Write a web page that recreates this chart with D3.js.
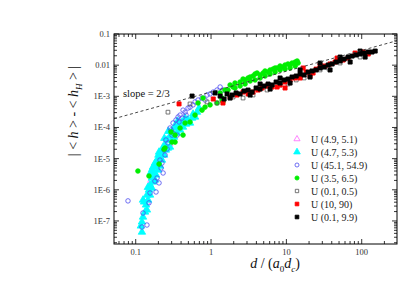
<!DOCTYPE html>
<html>
<head>
<meta charset="utf-8">
<script src="https://cdn.jsdelivr.net/npm/d3@7/dist/d3.min.js"></script>
<style>
  html, body { margin: 0; padding: 0; background: #fff; }
  svg { display: block; }
  text { font-family: "Liberation Serif", "Times New Roman", serif; }
</style>
</head>
<body>
<div id="chart"></div>
<script>
// 数据: [d/(a0 dc), |<h> - <hH>|]
const u49_51 = [[0.14, 4e-7], [0.16, 2e-6], [0.2, 8e-6], [0.28, 3e-5], [0.4, 1.2e-4]];

const u47_53 = [
  [0.121, 4.4e-8], [0.117, 6.9e-8], [0.121, 9.3e-8], [0.125, 1.34e-7], [0.133, 1.94e-7],
  [0.141, 2.25e-7], [0.137, 3.26e-7], [0.129, 4.07e-7], [0.125, 4.7e-7], [0.146, 4.7e-7],
  [0.141, 6.8e-7], [0.155, 6.8e-7], [0.150, 9.9e-7], [0.164, 1.14e-6], [0.155, 1.43e-6],
  [0.145, 1.2e-6], [0.165, 4.5e-6], [0.2, 1.3e-5], [0.24, 4.5e-5], [0.27, 7.5e-5],
  [0.33, 1.1e-4], [0.36, 1.6e-4],
  [0.170, 1.78e-6], [0.180, 2.06e-6], [0.164, 2.39e-6], [0.186, 2.99e-6], [0.175, 3.72e-6],
  [0.160, 3.72e-6], [0.198, 4.32e-6], [0.186, 5.4e-6], [0.170, 5.4e-6], [0.210, 5.8e-6],
  [0.180, 7.2e-6], [0.198, 7.8e-6], [0.192, 9.0e-6], [0.223, 9.0e-6], [0.210, 1.13e-5],
  [0.238, 1.31e-5], [0.223, 1.63e-5], [0.204, 1.63e-5], [0.252, 1.89e-5], [0.268, 2.19e-5],
  [0.231, 2.36e-5], [0.245, 2.74e-5], [0.285, 2.36e-5], [0.261, 3.96e-5], [0.303, 3.96e-5],
  [0.285, 5.3e-5], [0.323, 4.9e-5], [0.303, 7.2e-5], [0.354, 6.6e-5], [0.343, 9.6e-5],
  [0.388, 8.3e-5], [0.376, 1.2e-4], [0.425, 1.03e-4], [0.412, 1.5e-4], [0.466, 1.29e-4],
  [0.495, 1.74e-4], [0.526, 1.39e-4], [0.452, 2.0e-4], [0.560, 2.0e-4], [0.613, 2.17e-4],
  [0.577, 2.7e-4], [0.652, 3.1e-4], [0.693, 4.2e-4]
];

const u451_549 = [
  [0.079, 4.4e-7], [0.121, 6.4e-8], [0.141, 7.4e-8], [0.125, 1.8e-7], [0.150, 3.8e-7],
  [0.155, 7.9e-7], [0.186, 8.5e-7], [0.180, 1.9e-6], [0.204, 1.66e-6], [0.192, 2.39e-6],
  [0.231, 3.46e-6], [0.217, 5.0e-6], [0.223, 7.2e-6], [0.210, 9.0e-6], [0.245, 1.31e-5],
  [0.238, 1.89e-5], [0.261, 2.04e-5], [0.268, 3.18e-5], [0.252, 3.96e-5], [0.313, 6.6e-5],
  [0.354, 5.7e-5], [0.294, 8.3e-5], [0.303, 5.7e-5], [0.285, 9.6e-5], [0.313, 1.39e-4],
  [0.376, 1.5e-4], [0.343, 1.74e-4], [0.365, 2.17e-4], [0.412, 2.0e-4], [0.388, 2.5e-4],
  [0.466, 2.5e-4], [0.452, 3.1e-4], [0.425, 3.6e-4], [0.495, 4.2e-4], [0.526, 4.5e-4],
  [0.577, 5.3e-4], [0.613, 6.6e-4], [0.672, 7.6e-4], [0.832, 7.6e-4], [0.759, 8.8e-4],
  [0.885, 1.10e-3], [0.97, 1.19e-3], [1.07, 1.37e-3], [1.20, 1.59e-3], [1.44, 1.59e-3],
  [1.32, 1.99e-3]
];

const u35_65 = [
  [0.107, 4.0e-6], [0.150, 2.77e-6], [0.204, 6.7e-6], [0.238, 2.0e-5], [0.245, 2.2e-5],
  [0.333, 3.4e-5], [0.303, 3.4e-5], [0.294, 7.2e-5], [0.425, 5.7e-5], [0.333, 5.7e-5],
  [0.388, 9.6e-5], [0.452, 1.39e-4], [0.526, 1.5e-4], [0.613, 2.5e-4], [0.759, 3.6e-4],
  [0.832, 4.5e-4], [0.97, 5.3e-4], [1.20, 6.1e-4], [1.40, 7.6e-4], [0.783, 8.8e-4],
  [0.672, 6.1e-4], [1.40, 8.8e-4], [1.44, 6.6e-4], [1.32, 1.28e-3], [1.53, 1.59e-3],
  [1.68, 1.59e-3], [1.79, 2.31e-3], [1.96, 1.99e-3], [2.08, 2.67e-3], [2.08, 1.85e-3],
  [2.43, 2.88e-3], [2.43, 2.14e-3], [2.66, 3.59e-3], [2.83, 3.34e-3], [2.83, 2.48e-3],
  [3.10, 3.87e-3], [3.30, 4.16e-3], [3.30, 3.10e-3], [3.61, 4.48e-3], [3.84, 5.2e-3],
  [3.84, 3.34e-3], [4.08, 5.6e-3], [4.48, 4.83e-3], [4.48, 3.87e-3], [4.91, 5.6e-3],
  [5.21, 6.5e-3], [5.21, 4.48e-3], [5.71, 6.0e-3], [6.08, 7.0e-3], [6.08, 5.2e-3],
  [6.66, 7.5e-3], [7.08, 8.1e-3], [7.08, 6.0e-3], [7.53, 8.1e-3], [8.25, 9.4e-3],
  [8.25, 7.0e-3], [9.04, 8.7e-3], [9.6, 1.01e-2], [9.6, 7.5e-3], [10.5, 1.09e-2],
  [11.2, 1.01e-2], [11.2, 8.1e-3], [11.9, 1.17e-2], [13.1, 1.26e-2], [13.1, 9.4e-3],
  [13.9, 1.36e-2], [14.3, 1.17e-2]
];

const u01_05 = [
  [0.268, 3.1e-4], [0.526, 5.7e-4], [0.885, 6.6e-4], [1.20, 6.1e-4], [1.96, 9.5e-4],
  [2.66, 8.8e-4], [3.61, 1.10e-3], [5.54, 1.59e-3], [8.25, 2.31e-3], [10.5, 2.48e-3],
  [13.5, 3.34e-3], [17.2, 3.87e-3], [28.0, 7.0e-3], [35.8, 8.1e-3], [51.7, 1.17e-2],
  [95.2, 1.82e-2]
];

const u10_90 = [
  [0.376, 5.7e-4], [1.07, 8.2e-4], [1.44, 6.1e-4], [1.79, 9.5e-4], [2.21, 1.10e-3],
  [2.66, 1.37e-3], [3.10, 1.19e-3], [3.61, 1.37e-3], [4.21, 1.59e-3], [4.76, 1.85e-3],
  [5.54, 2.14e-3], [6.46, 1.99e-3], [7.53, 1.99e-3], [8.25, 2.31e-3], [9.6, 1.85e-3],
  [9.6, 2.88e-3], [11.2, 3.34e-3], [13.1, 3.87e-3], [15.2, 3.87e-3], [16.7, 8.1e-3],
  [18.3, 6.0e-3], [20.6, 4.48e-3], [22.6, 5.6e-3], [24.8, 7.5e-3], [28.0, 1.01e-2],
  [32.7, 9.4e-3], [38.0, 1.09e-2], [44.3, 1.26e-2], [47.1, 1.69e-2], [56.6, 1.46e-2],
  [65.9, 1.69e-2], [81.7, 2.45e-2], [104, 2.64e-2], [122, 2.28e-2]
];

const u01_99 = [
  [0.560, 1.02e-3], [1.13, 1.28e-3], [1.63, 1.19e-3], [1.32, 1.02e-3], [1.49, 8.2e-4],
  [1.79, 8.8e-4], [1.90, 1.10e-3], [2.15, 1.28e-3], [2.43, 1.19e-3], [2.74, 1.48e-3],
  [3.10, 1.59e-3], [3.30, 1.10e-3], [3.50, 1.37e-3], [3.96, 1.85e-3], [4.48, 1.71e-3],
  [4.48, 2.48e-3], [5.06, 2.14e-3], [5.71, 2.48e-3], [6.08, 1.71e-3], [6.46, 2.31e-3],
  [7.30, 2.88e-3], [8.25, 2.67e-3], [8.25, 3.87e-3], [9.31, 3.34e-3], [10.5, 3.59e-3],
  [11.2, 2.67e-3], [11.9, 4.16e-3], [13.5, 4.48e-3], [15.2, 5.2e-3], [15.2, 7.0e-3],
  [17.2, 4.83e-3], [19.4, 6.0e-3], [20.6, 4.16e-3], [21.9, 6.5e-3], [24.8, 7.0e-3],
  [28.0, 8.1e-3], [28.0, 1.17e-2], [31.7, 8.7e-3], [35.8, 1.01e-2], [38.0, 7.0e-3],
  [40.5, 1.09e-2], [45.7, 1.26e-2], [51.7, 1.36e-2], [51.7, 1.82e-2], [58.4, 1.57e-2],
  [65.9, 1.82e-2], [70.2, 1.26e-2], [74.6, 1.96e-2], [84.3, 2.12e-2], [95.2, 2.28e-2],
  [95.2, 2.84e-2], [108, 2.45e-2], [111, 1.82e-2], [122, 2.64e-2], [137, 2.64e-2],
  [151, 2.84e-2]
];

const seriesNames = ["U (4.9, 5.1)", "U (4.7, 5.3)", "U (45.1, 54.9)", "U (3.5, 6.5)",
                     "U (0.1, 0.5)", "U (10, 90)", "U (0.1, 9.9)"];
const seriesData = [u49_51, u47_53, u451_549, u35_65, u01_05, u10_90, u01_99];

const yTickLabels = ["1E-7", "1E-6", "1E-5", "1E-4", "1E-3", "0.01", "0.1"];
const xTickLabels = ["0.1", "1", "10", "100"];

// slope = 2/3 参考线: y = k * x^(2/3)
const slopeK = 1.38e-3;
const slopeExp = 2 / 3;

const width = 415, height = 292;
const plot = { left: 114, right: 397, top: 34, bottom: 244 };

const styles = [
  { shape: d3.symbolTriangle, size: 20, fill: "none", stroke: "#ff66ff" },
  { shape: d3.symbolTriangle, size: 24, fill: "#00ffff", stroke: "#00ffff" },
  { shape: d3.symbolCircle, size: 16, fill: "none", stroke: "#4b4bf0" },
  { shape: d3.symbolCircle, size: 17, fill: "#00ee00", stroke: "#00ee00" },
  { shape: d3.symbolSquare, size: 14, fill: "none", stroke: "#555" },
  { shape: d3.symbolSquare, size: 17, fill: "#ff0000", stroke: "#ff0000" },
  { shape: d3.symbolSquare, size: 17, fill: "#000", stroke: "#000" }
];

const svg = d3.select("#chart").append("svg")
  .attr("width", width)
  .attr("height", height);

const x = d3.scaleLog().domain([0.0515, 294]).range([plot.left, plot.right]);
const y = d3.scaleLog().domain([1.82e-8, 0.1]).range([plot.bottom, plot.top]);

// 刻度 (内向)
function decadeTicks(scale) {
  const [lo, hi] = scale.domain();
  const major = [], minor = [];
  for (let e = Math.floor(Math.log10(lo)); e <= Math.ceil(Math.log10(hi)); e++) {
    for (let m = 1; m < 10; m++) {
      const v = m * Math.pow(10, e);
      if (v < lo * 0.999 || v > hi * 1.001) continue;
      (m === 1 ? major : minor).push(v);
    }
  }
  return { major, minor };
}

const xt = decadeTicks(x), yt = decadeTicks(y);
const ticks = svg.append("g").attr("stroke", "#000").attr("stroke-width", 0.8);

yt.major.forEach(v => {
  ticks.append("line").attr("x1", plot.left).attr("x2", plot.left + 5).attr("y1", y(v)).attr("y2", y(v));
  ticks.append("line").attr("x1", plot.right).attr("x2", plot.right - 5).attr("y1", y(v)).attr("y2", y(v));
});
yt.minor.forEach(v => {
  ticks.append("line").attr("x1", plot.left).attr("x2", plot.left + 3).attr("y1", y(v)).attr("y2", y(v));
  ticks.append("line").attr("x1", plot.right).attr("x2", plot.right - 3).attr("y1", y(v)).attr("y2", y(v));
});
xt.major.forEach(v => {
  ticks.append("line").attr("x1", x(v)).attr("x2", x(v)).attr("y1", plot.bottom).attr("y2", plot.bottom - 5);
  ticks.append("line").attr("x1", x(v)).attr("x2", x(v)).attr("y1", plot.top).attr("y2", plot.top + 5);
});
xt.minor.forEach(v => {
  ticks.append("line").attr("x1", x(v)).attr("x2", x(v)).attr("y1", plot.bottom).attr("y2", plot.bottom - 3);
  ticks.append("line").attr("x1", x(v)).attr("x2", x(v)).attr("y1", plot.top).attr("y2", plot.top + 3);
});

// 刻度标签
const yMajor = yt.major.filter(v => v >= 1e-7);
svg.append("g").selectAll("text")
  .data(yMajor)
  .join("text")
  .attr("x", plot.left - 4)
  .attr("y", d => y(d) + 3)
  .attr("text-anchor", "end")
  .attr("font-size", 8.5)
  .attr("fill", "#333")
  .text((d, i) => yTickLabels[i]);

svg.append("g").selectAll("text")
  .data(xt.major)
  .join("text")
  .attr("x", d => x(d))
  .attr("y", plot.bottom + 11)
  .attr("text-anchor", "middle")
  .attr("font-size", 8.5)
  .attr("fill", "#333")
  .text((d, i) => xTickLabels[i]);

// 数据点
svg.append("clipPath").attr("id", "clip")
  .append("rect")
  .attr("x", plot.left).attr("y", plot.top)
  .attr("width", plot.right - plot.left).attr("height", plot.bottom - plot.top);

const pts = svg.append("g").attr("clip-path", "url(#clip)");
seriesData.forEach((data, i) => {
  const st = styles[i];
  pts.append("g").selectAll("path")
    .data(data)
    .join("path")
    .attr("transform", d => `translate(${x(d[0])},${y(d[1])})`)
    .attr("d", d3.symbol().type(st.shape).size(st.size))
    .attr("fill", st.fill)
    .attr("stroke", st.stroke)
    .attr("stroke-width", 0.8);
});

// 斜率线
const xs = x.domain();
svg.append("line")
  .attr("x1", x(xs[0])).attr("y1", y(slopeK * Math.pow(xs[0], slopeExp)))
  .attr("x2", x(xs[1])).attr("y2", y(slopeK * Math.pow(xs[1], slopeExp)))
  .attr("stroke", "#333")
  .attr("stroke-width", 0.9)
  .attr("stroke-dasharray", "3,2.5");

svg.append("text")
  .attr("x", 123).attr("y", 97)
  .attr("font-size", 10.5)
  .attr("fill", "#111")
  .text("slope = 2/3");

// 外框
svg.append("rect")
  .attr("x", plot.left).attr("y", plot.top)
  .attr("width", plot.right - plot.left).attr("height", plot.bottom - plot.top)
  .attr("fill", "none")
  .attr("stroke", "#000")
  .attr("stroke-width", 1);

// 图例
const legend = svg.append("g");
seriesNames.forEach((name, i) => {
  const ly = 139 + i * 13;
  const st = styles[i];
  legend.append("path")
    .attr("transform", `translate(297,${ly})`)
    .attr("d", d3.symbol().type(st.shape).size(st.size * 0.8))
    .attr("fill", st.fill)
    .attr("stroke", st.stroke)
    .attr("stroke-width", 0.8);
  legend.append("text")
    .attr("x", 311).attr("y", ly + 3.5)
    .attr("font-size", 10)
    .attr("fill", "#222")
    .text(name);
});

// 坐标轴标题
const xl = svg.append("text")
  .attr("x", 275).attr("y", 268)
  .attr("text-anchor", "middle")
  .attr("font-size", 14)
  .attr("fill", "#111");
xl.append("tspan").attr("font-style", "italic").text("d");
xl.append("tspan").text(" / (");
xl.append("tspan").attr("font-style", "italic").text("a");
xl.append("tspan").attr("font-size", 9).attr("dy", 4).text("0");
xl.append("tspan").attr("font-style", "italic").attr("dy", -4).text("d");
xl.append("tspan").attr("font-size", 9).attr("font-style", "italic").attr("dy", 4).text("c");
xl.append("tspan").attr("dy", -4).text(")");

const yl = svg.append("text")
  .attr("transform", "translate(78,111) rotate(-90)")
  .attr("text-anchor", "middle")
  .attr("font-size", 14)
  .attr("fill", "#111");
yl.append("tspan").text("| < ");
yl.append("tspan").attr("font-style", "italic").text("h");
yl.append("tspan").text(" > - < ");
yl.append("tspan").attr("font-style", "italic").text("h");
yl.append("tspan").attr("font-size", 9).attr("font-style", "italic").attr("dy", 4).text("H");
yl.append("tspan").attr("dy", -4).text(" > |");
</script>
</body>
</html>
